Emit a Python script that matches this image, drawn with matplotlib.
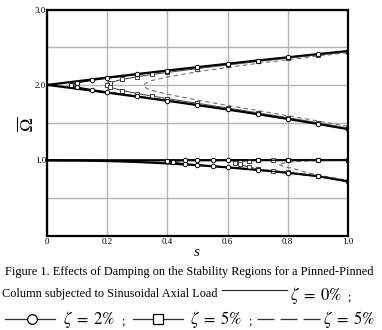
import matplotlib
matplotlib.use("Agg")
import matplotlib.pyplot as plt
from matplotlib.lines import Line2D

plt.rcParams['font.family'] = ['Liberation Serif', 'DejaVu Serif']
plt.rcParams['mathtext.fontset'] = 'stix'

# principal region, zeta = 0 %
s0 = [0.0, 0.1, 0.2, 0.3, 0.4, 0.5, 0.6, 0.7, 0.8, 0.9, 1.0]
up0 = [2.0, 2.049, 2.098, 2.145, 2.191, 2.236, 2.280, 2.324, 2.366, 2.408, 2.449]
lo0 = [2.0, 1.949, 1.897, 1.844, 1.789, 1.732, 1.673, 1.612, 1.549, 1.483, 1.414]

# principal region, zeta = 2 %
s2 = [0.08, 0.1, 0.15, 0.2, 0.3, 0.4, 0.5, 0.6, 0.7, 0.8, 0.9, 1.0]
up2 = [2.0, 2.030, 2.062, 2.090, 2.140, 2.187, 2.233, 2.278, 2.322, 2.365, 2.407, 2.448]
lo2 = [2.0, 1.970, 1.936, 1.906, 1.850, 1.793, 1.736, 1.677, 1.615, 1.552, 1.486, 1.416]

# principal region, zeta = 5 %
s5 = [0.2, 0.21, 0.25, 0.3, 0.35, 0.4, 0.5, 0.6, 0.7, 0.8, 0.9, 1.0]
up5 = [2.0, 2.032, 2.074, 2.109, 2.139, 2.166, 2.217, 2.265, 2.311, 2.356, 2.399, 2.441]
lo5 = [2.0, 1.967, 1.924, 1.885, 1.851, 1.818, 1.756, 1.694, 1.630, 1.566, 1.498, 1.428]

# principal region, zeta = 5 % (dashed)
s5d = [0.32, 0.33, 0.35, 0.4, 0.5, 0.6, 0.7, 0.8, 0.9, 1.0]
up5d = [1.99, 2.030, 2.060, 2.105, 2.175, 2.232, 2.285, 2.335, 2.382, 2.428]
lo5d = [1.99, 1.955, 1.925, 1.876, 1.798, 1.728, 1.660, 1.592, 1.522, 1.451]

# secondary region, zeta = 0 %
sec_up0 = [1.0, 1.0, 1.0, 1.0, 1.0, 1.001, 1.001, 1.002, 1.002, 1.003, 1.003]
sec_lo0 = [1.0, 0.997, 0.990, 0.977, 0.958, 0.935, 0.906, 0.872, 0.835, 0.790, 0.720]

# secondary region, zeta = 2 %
ss2 = [0.40, 0.42, 0.46, 0.5, 0.55, 0.6, 0.7, 0.8, 0.9, 1.0]
ss2_up = [0.985, 0.993, 0.998, 1.0, 1.0, 1.0, 1.001, 1.001, 1.002, 1.002]
ss2_lo = [0.985, 0.972, 0.952, 0.937, 0.922, 0.907, 0.872, 0.833, 0.787, 0.722]

# secondary region, zeta = 5 %
ss5 = [0.625, 0.64, 0.67, 0.7, 0.75, 0.8, 0.9, 1.0]
ss5_up = [0.965, 0.982, 0.994, 0.998, 0.999, 1.0, 1.001, 1.001]
ss5_lo = [0.965, 0.945, 0.912, 0.885, 0.862, 0.838, 0.792, 0.724]

# secondary region, zeta = 5 % (dashed)
ss5d = [0.77, 0.79, 0.82, 0.86, 0.9, 1.0]
ss5d_up = [0.945, 0.965, 0.980, 0.990, 0.995, 0.998]
ss5d_lo = [0.945, 0.915, 0.890, 0.840, 0.805, 0.735]


def loop(s, up, lo):
    return s[::-1] + s[1:], up[::-1] + lo[1:]


fig = plt.figure(figsize=(3.82, 3.30), dpi=100)
ax = fig.add_axes([0.124, 0.286, 0.786, 0.685])

# dashed zeta = 5 %
for s, u, l in [(s5d, up5d, lo5d), (ss5d, ss5d_up, ss5d_lo)]:
    x, y = loop(s, u, l)
    ax.plot(x, y, color='#707070', lw=0.8, ls=(0, (4, 3)), zorder=3)

# zeta = 0 %
ax.plot(s0, up0, color='black', lw=1.6, zorder=4)
ax.plot(s0, lo0, color='black', lw=1.6, zorder=4)
ax.plot(s0, sec_up0, color='black', lw=1.6, zorder=4)
ax.plot(s0, sec_lo0, color='black', lw=1.6, zorder=4)

# zeta = 5 %
for s, u, l in [(s5, up5, lo5), (ss5, ss5_up, ss5_lo)]:
    x, y = loop(s, u, l)
    ax.plot(x, y, color='#505050', lw=0.8, marker='s', ms=2.8, mfc='white',
            mec='#404040', mew=0.7, zorder=5)

# zeta = 2 %
for s, u, l in [(s2, up2, lo2), (ss2, ss2_up, ss2_lo)]:
    x, y = loop(s, u, l)
    ax.plot(x, y, color='black', lw=0.9, marker='o', ms=3.2, mfc='white',
            mec='black', mew=0.7, zorder=6)

ax.set_xlim(0, 1.0)
ax.set_ylim(0, 3.0)
ax.set_xticks([0, 0.2, 0.4, 0.6, 0.8, 1.0])
ax.set_xticklabels(['0', '0.2', '0.4', '0.6', '0.8', '1.0'])
ax.set_yticks([0.5, 1.0, 1.5, 2.0, 2.5, 3.0])
ax.set_yticklabels(['', '1.0', '', '2.0', '', '3.0'])
ax.grid(True, color='#b4b4b4', lw=1.0)
ax.tick_params(length=0, labelsize=6.5, pad=2)
ax.tick_params(axis='y', pad=1)
for sp in ax.spines.values():
    sp.set_linewidth(1.6)
    sp.set_zorder(7)

W, H = 382.0, 330.0

fig.text(197 / W, 1 - 253 / H, 's', fontsize=11, style='italic',
         ha='center', va='center')
fig.text(27 / W, 1 - 124 / H, r'$\overline{\mathit{\Omega}}$', fontsize=13,
         rotation=90, ha='center', va='center')

# caption with legend
fig.text(0.012, 0.177, 'Figure 1. Effects of Damping on the Stability Regions for a Pinned-Pinned',
         fontsize=8.8, va='center', ha='left')
fig.text(0.004, 0.110, 'Column subjected to Sinusoidal Axial Load',
         fontsize=8.8, va='center', ha='left')


def legline(x0, x1, ypx, **kw):
    fig.add_artist(Line2D([x0 / W, x1 / W], [1 - ypx / H, 1 - ypx / H],
                          transform=fig.transFigure, **kw))


legline(222, 287, 290, color='#303030', lw=0.9)
fig.text(290 / W, 1 - 296 / H, r'$\zeta\;=\;0\%$', fontsize=12, va='center')
fig.text(347 / W, 1 - 297 / H, ';', fontsize=8.8, va='center')

legline(5, 55, 319, color='#303030', lw=0.9)
fig.add_artist(Line2D([31.7 / W], [1 - 319 / H], transform=fig.transFigure,
                      marker='o', ms=7, mfc='white', mec='black', mew=0.9))
fig.text(63 / W, 1 - 320 / H, r'$\zeta\;=\;2\%$', fontsize=12, va='center')
fig.text(121 / W, 1 - 321 / H, ';', fontsize=8.8, va='center')

legline(133, 183, 319, color='#303030', lw=0.9)
fig.add_artist(Line2D([158 / W], [1 - 319 / H], transform=fig.transFigure,
                      marker='s', ms=6.5, mfc='white', mec='black', mew=0.9))
fig.text(190 / W, 1 - 320 / H, r'$\zeta\;=\;5\%$', fontsize=12, va='center')
fig.text(248 / W, 1 - 321 / H, ';', fontsize=8.8, va='center')

legline(257, 320, 319, color='#303030', lw=0.9, ls=(0, (13.6, 4.8)))
fig.text(323 / W, 1 - 320 / H, r'$\zeta\;=\;5\%$', fontsize=12, va='center')

fig.savefig('out.png', dpi=100)
